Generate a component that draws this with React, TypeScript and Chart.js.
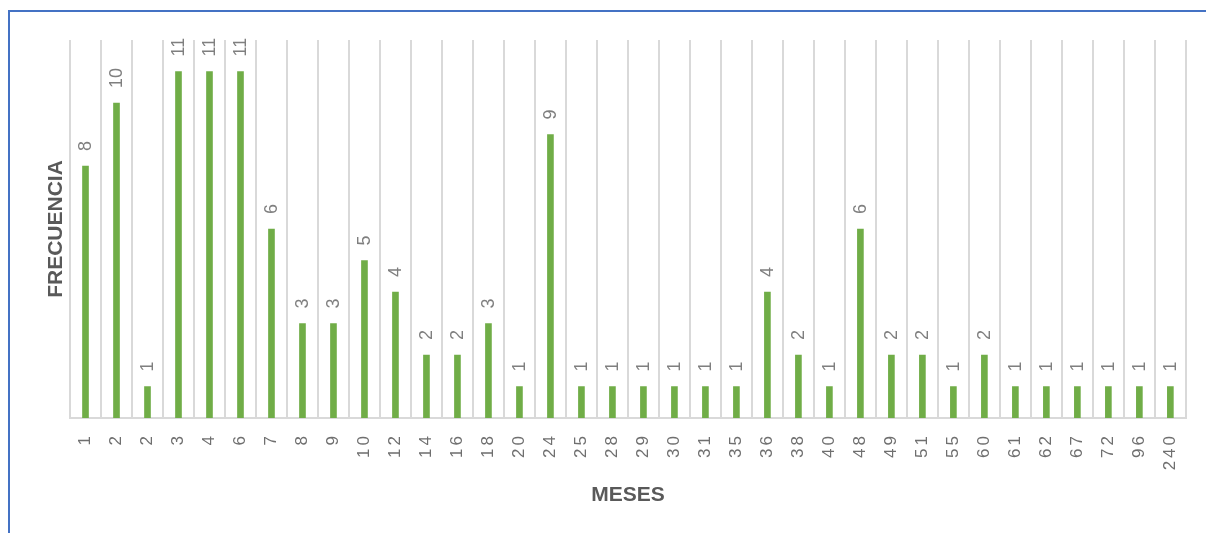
import React, { useEffect, useRef } from "react";
import { Chart, registerables } from "chart.js";

Chart.register(...registerables);

const months: string[] = [
  "1", "2", "2", "3", "4", "6", "7", "8", "9", "10",
  "12", "14", "16", "18", "20", "24", "25", "28", "29", "30",
  "31", "35", "36", "38", "40", "48", "49", "51", "55", "60",
  "61", "62", "67", "72", "96", "240",
];

const frequencies: number[] = [
  8, 10, 1, 11, 11, 11, 6, 3, 3, 5,
  4, 2, 2, 3, 1, 9, 1, 1, 1, 1,
  1, 1, 4, 2, 1, 6, 2, 2, 1, 2,
  1, 1, 1, 1, 1, 1,
];

const xTitle = "MESES";
const yTitle = "FRECUENCIA";

const FONT = '"Liberation Sans", Arial, sans-serif';

const decorPlugin = {
  id: "decor",
  beforeDraw(chart: any) {
    chart.ctx.letterSpacing = "3px";
  },
  beforeDatasetsDraw(chart: any) {
    chart.ctx.letterSpacing = "0px";
  },
  afterDatasetsDraw(chart: any) {
    const ctx = chart.ctx;
    const meta = chart.getDatasetMeta(0);
    ctx.save();
    ctx.letterSpacing = "0px";
    ctx.font = `18px ${FONT}`;
    ctx.fillStyle = "#7f7f7f";
    ctx.textAlign = "left";
    ctx.textBaseline = "middle";
    meta.data.forEach((el: any, i: number) => {
      ctx.save();
      ctx.translate(el.x + 1, el.y - 15);
      ctx.rotate(-Math.PI / 2);
      ctx.fillText(String(frequencies[i]), 0, 0);
      ctx.restore();
    });
    const area = chart.chartArea;
    ctx.font = `bold 21px ${FONT}`;
    ctx.fillStyle = "#595959";
    ctx.textAlign = "center";
    ctx.textBaseline = "middle";
    ctx.fillText(xTitle, (area.left + area.right) / 2, 483);
    ctx.save();
    ctx.translate(46, (area.top + area.bottom) / 2);
    ctx.rotate(-Math.PI / 2);
    ctx.fillText(yTitle, 0, 0);
    ctx.restore();
    ctx.restore();
  },
};

export default function App() {
  const ref = useRef<HTMLCanvasElement | null>(null);
  useEffect(() => {
    if (!ref.current) return;
    const chart = new Chart(ref.current, {
      type: "bar",
      data: {
        labels: months,
        datasets: [
          {
            data: frequencies,
            backgroundColor: "#70AD47",
            barThickness: 6,
          },
        ],
      },
      options: {
        animation: false,
        responsive: false,
        layout: { padding: { left: 60, top: 28, right: 17, bottom: 0 } },
        plugins: { legend: { display: false }, tooltip: { enabled: false } },
        scales: {
          x: {
            afterFit: (scale: any) => {
              scale.height = 115;
            },
            grid: { color: "#d9d9d9", lineWidth: 2, drawTicks: false, offset: true },
            border: { color: "#d9d9d9", width: 2 },
            ticks: {
              autoSkip: false,
              minRotation: 90,
              maxRotation: 90,
              padding: 15,
              color: "#6f6f6f",
              font: { family: FONT, size: 17 },
            },
          },
          y: {
            display: false,
            min: 0,
            max: 12,
          },
        },
      },
      plugins: [decorPlugin],
    });
    return () => chart.destroy();
  }, []);

  return (
    <div
      style={{
        position: "absolute",
        left: 8,
        top: 10,
        width: 1198,
        height: 523,
        boxSizing: "border-box",
        borderTop: "2px solid #4472C4",
        borderLeft: "2px solid #4472C4",
        overflow: "hidden",
        background: "#fff",
      }}
    >
      <canvas ref={ref} width={1196} height={521} style={{ display: "block" }} />
    </div>
  );
}
